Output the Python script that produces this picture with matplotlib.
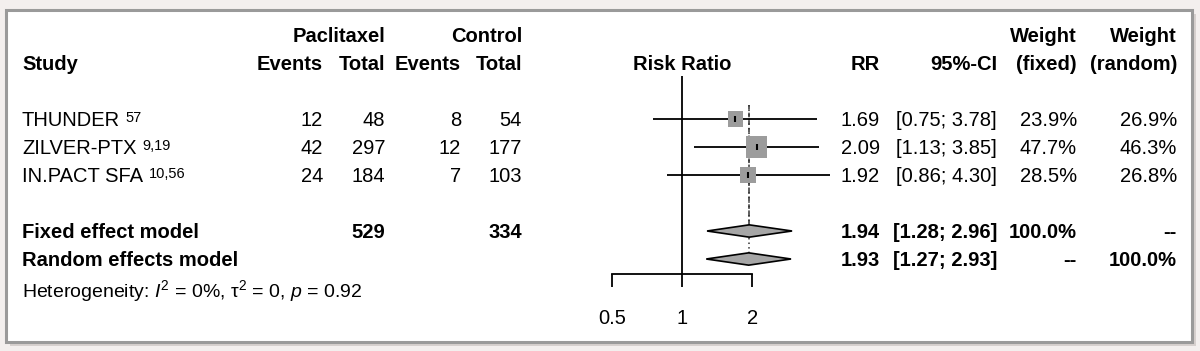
import numpy as np
import matplotlib
matplotlib.use('Agg')
import matplotlib.pyplot as plt
from matplotlib.patches import Rectangle
from matplotlib.ticker import NullLocator
from matplotlib.transforms import blended_transform_factory

plt.rcParams['font.family'] = ['Liberation Sans', 'DejaVu Sans']
plt.rcParams['mathtext.fontset'] = 'custom'
plt.rcParams['mathtext.rm'] = 'Liberation Sans'
plt.rcParams['mathtext.it'] = 'Liberation Sans:italic'
plt.rcParams['mathtext.bf'] = 'Liberation Sans:bold'

# data
studies = ['THUNDER', 'ZILVER-PTX', 'IN.PACT SFA']
refs = ['57', '9,19', '10,56']
pac_events = [12, 42, 24]
pac_total = [48, 297, 184]
ctl_events = [8, 12, 7]
ctl_total = [54, 177, 103]
rr = [1.69, 2.09, 1.92]
ci_low = [0.75, 1.13, 0.86]
ci_high = [3.78, 3.85, 4.30]
w_fixed = [23.9, 47.7, 28.5]
w_random = [26.9, 46.3, 26.8]

fixed_est, fixed_low, fixed_high = 1.94, 1.28, 2.96
random_est, random_low, random_high = 1.93, 1.27, 2.93
pac_sum, ctl_sum = 529, 334
ticks = [0.5, 1, 2]

W, H = 1200, 351
FS = 14.5
fig = plt.figure(figsize=(12, 3.51), dpi=100, facecolor='#f3efee')

# white panel with grey frame and a soft shadow
fig.patches.append(Rectangle((10 / W, 5 / H), 1186 / W, 332 / H, transform=fig.transFigure,
                             facecolor='#d6d0ce', edgecolor='none', zorder=-2))
fig.patches.append(Rectangle((6 / W, 9 / H), 1186 / W, 332 / H, transform=fig.transFigure,
                             facecolor='white', edgecolor='#9a9a9a', lw=2.2, zorder=-1))

ax = fig.add_axes([0, 0, 1, 1])
ax.set_facecolor('none')
ax.set_xscale('log')
# 1 sits at x=682 px, one doubling = 70.3 px
ax.set_xlim(2 ** (-682 / 70.3), 2 ** ((W - 682) / 70.3))
# rows are 28 px apart, row 0 at y=35 px
ax.set_ylim((H - 35) / 28, -35 / 28)

for s in ['top', 'right', 'left']:
    ax.spines[s].set_visible(False)
ax.spines['bottom'].set_position(('data', 8.54))
ax.spines['bottom'].set_bounds(0.5, 2)
ax.spines['bottom'].set_linewidth(1.3)
ax.set_xticks(ticks)
ax.set_xticklabels(['0.5', '1', '2'])
ax.xaxis.set_minor_locator(NullLocator())
ax.tick_params(axis='x', length=9.4, width=1.3, pad=16, labelsize=FS)
ax.set_yticks([])

tr = blended_transform_factory(fig.transFigure, ax.transData)


def put(px, row, s, ha='right', bold=False, size=FS):
    return ax.text(px / W, row + 0.25, s, transform=tr, ha=ha, va='baseline',
                   fontsize=size, fontweight='bold' if bold else 'normal')


# headers
put(385, 0, 'Paclitaxel', bold=True)
put(522, 0, 'Control', bold=True)
put(1077, 0, 'Weight', bold=True)
put(1177, 0, 'Weight', bold=True)
put(22, 1, 'Study', ha='left', bold=True)
put(323, 1, 'Events', bold=True)
put(385, 1, 'Total', bold=True)
put(461, 1, 'Events', bold=True)
put(522, 1, 'Total', bold=True)
ax.text(1, 1.25, 'Risk Ratio', ha='center', va='baseline', fontsize=FS, fontweight='bold')
put(880, 1, 'RR', bold=True)
put(997, 1, '95%-CI', bold=True)
put(1077, 1, '(fixed)', bold=True)
put(1177, 1, '(random)', bold=True)

rows = [3, 4, 5]
for i, r in enumerate(rows):
    t = put(22, r, studies[i], ha='left')
    ax.annotate(refs[i], xy=(1, 1), xycoords=t, xytext=(4, 0), textcoords='offset points',
                ha='left', va='top', fontsize=10.5)
    put(323, r, str(pac_events[i]))
    put(385, r, str(pac_total[i]))
    put(461, r, str(ctl_events[i]))
    put(522, r, str(ctl_total[i]))
    put(880, r, f'{rr[i]:.2f}')
    put(997, r, f'[{ci_low[i]:.2f}; {ci_high[i]:.2f}]')
    put(1077, r, f'{w_fixed[i]:.1f}%')
    put(1177, r, f'{w_random[i]:.1f}%')

put(22, 7, 'Fixed effect model', ha='left', bold=True)
put(385, 7, str(pac_sum), bold=True)
put(522, 7, str(ctl_sum), bold=True)
put(880, 7, f'{fixed_est:.2f}', bold=True)
put(997, 7, f'[{fixed_low:.2f}; {fixed_high:.2f}]', bold=True)
put(1077, 7, '100.0%', bold=True)
put(1177, 7, '--', bold=True)

put(22, 8, 'Random effects model', ha='left', bold=True)
put(880, 8, f'{random_est:.2f}', bold=True)
put(997, 8, f'[{random_low:.2f}; {random_high:.2f}]', bold=True)
put(1077, 8, '--', bold=True)
put(1177, 8, '100.0%', bold=True)

put(22, 9.1, r'Heterogeneity: $I^2$ = 0%, τ$^2$ = 0, $p$ = 0.92', ha='left', size=14)

# reference line and pooled estimate lines
ax.vlines(1, 1.46, 8.54, color='black', lw=1.3, zorder=2)
ax.vlines(fixed_est, 2.5, 7, color='#333333', lw=1.1, linestyles=(0, (3, 2)), zorder=1)
ax.vlines(random_est, 2.5, 8, color='#333333', lw=1.1, linestyles=(0, (1, 2)), zorder=1)

# study CIs and weight squares
ax.hlines(rows, ci_low, ci_high, color='black', lw=1.3, zorder=2)
box_px = 3.1 * np.sqrt(w_fixed)
ax.scatter(rr, rows, marker='s', s=(box_px * 0.72) ** 2, color='#9c9c9c', edgecolors='none', zorder=3)
ax.scatter(rr, rows, marker='|', s=(6 * 0.72) ** 2, color='black', linewidths=1.5, zorder=4)

# summary diamonds
h = 0.22
for est, lo, hi, r in [(fixed_est, fixed_low, fixed_high, 7), (random_est, random_low, random_high, 8)]:
    ax.fill([lo, est, hi, est], [r, r - h, r, r + h], facecolor='#a6a6a6', edgecolor='black',
            lw=1.2, zorder=3)

fig.savefig('out.png', dpi=100, facecolor=fig.get_facecolor())
